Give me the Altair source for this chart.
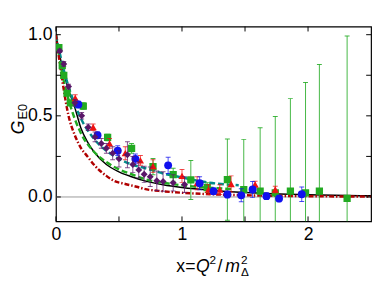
import altair as alt
import pandas as pd

# ---------------- curves ----------------
black_x = [0, 0.05, 0.1, 0.15, 0.2, 0.25, 0.3, 0.4, 0.5, 0.6, 0.72, 0.85, 1.0, 1.25, 1.5, 2.0, 2.5]
black_y = [1.0, 0.80, 0.66, 0.55, 0.42, 0.34, 0.28, 0.20, 0.155, 0.125, 0.096, 0.075, 0.058, 0.04, 0.028, 0.014, 0.007]

teal_x = [0, 0.05, 0.1, 0.15, 0.2, 0.3, 0.4, 0.5, 0.6, 0.72, 0.85, 1.0, 1.2, 1.45]
teal_y = [1.0, 0.82, 0.68, 0.57, 0.48, 0.36, 0.285, 0.235, 0.2, 0.175, 0.145, 0.12, 0.09, 0.072]

green_x = [0, 0.05, 0.1, 0.15, 0.2, 0.3, 0.4, 0.5, 0.6, 0.72, 0.85, 1.0, 1.2, 1.4]
green_y = [1.0, 0.76, 0.60, 0.48, 0.39, 0.28, 0.215, 0.17, 0.14, 0.107, 0.088, 0.072, 0.058, 0.048]

red_x = [0, 0.05, 0.1, 0.15, 0.2, 0.25, 0.3, 0.4, 0.46, 0.55, 0.64, 0.7, 0.85, 1.0, 1.3, 1.6, 2.0, 2.5]
red_y = [1.0, 0.72, 0.50, 0.38, 0.30, 0.25, 0.20, 0.13, 0.10, 0.08, 0.063, 0.05, 0.035, 0.026, 0.015, 0.009, 0.005, 0.002]

# ---------------- data points ----------------
purple_x = [0.03, 0.062, 0.1, 0.15, 0.204, 0.256, 0.31, 0.36, 0.4, 0.45, 0.5, 0.567, 0.61, 0.657, 0.7, 0.748, 0.8, 0.85, 0.93, 1.02]
purple_y = [0.9, 0.82, 0.68, 0.58, 0.5, 0.43, 0.37, 0.33, 0.3, 0.27, 0.235, 0.26, 0.2, 0.167, 0.14, 0.125, 0.1, 0.095, 0.087, 0.077]
purple_e = [0.01, 0.015, 0.015, 0.02, 0.02, 0.02, 0.03, 0.03, 0.03, 0.04, 0.05, 0.08, 0.05, 0.05, 0.05, 0.06, 0.06, 0.06, 0.05, 0.05]

blue_x = [0.178, 0.33, 0.49, 0.63, 0.89, 1.14, 1.25, 1.36, 1.47, 1.56, 1.67, 1.77, 1.95]
blue_y = [0.57, 0.38, 0.285, 0.235, 0.195, 0.085, 0.035, 0.015, 0.01, 0.046, 0.005, -0.01, 0.017]
blue_e = [0.02, 0.02, 0.03, 0.03, 0.05, 0.04, 0.02, 0.02, 0.04, 0.05, 0.02, 0.02, 0.045]

red_px = [0.153, 0.295, 0.425, 0.55, 0.67, 0.77, 1.0, 1.12, 1.21, 1.3, 1.39, 1.58, 1.74]
red_py = [0.61, 0.43, 0.33, 0.27, 0.225, 0.19, 0.13, 0.085, 0.046, 0.045, 0.08, 0.077, 0.046]
red_pe = [0.02, 0.02, 0.03, 0.04, 0.03, 0.04, 0.04, 0.04, 0.03, 0.03, 0.05, 0.02, 0.02]

green_px = [0.023, 0.05, 0.062, 0.088, 0.114, 0.217, 0.41, 0.6, 0.77, 0.93, 1.07, 1.2, 1.36, 1.49, 1.62, 1.74, 1.86, 1.98, 2.09, 2.31]
green_py = [0.92, 0.81, 0.75, 0.64, 0.58, 0.56, 0.367, 0.3, 0.187, 0.137, 0.105, 0.058, 0.107, 0.045, 0.036, 0.026, 0.036, 0.026, 0.036, -0.008]
green_pe = [0.01, 0.01, 0.01, 0.01, 0.01, 0.02, 0.02, 0.03, 0.05, 0.04, 0.12, 0.03, 0.25, 0.31, 0.39, 0.47, 0.57, 0.68, 0.78, 1.0]

x_major = [0, 1, 2]
x_minor = [0.5, 1.5]
y_major = [0.0, 0.5, 1.0]
y_minor = [0.25, 0.75]

W, H = 322, 199
FONT = "Liberation Sans"

xs = alt.Scale(domain=[0, 2.5], nice=False, zero=False)
ys = alt.Scale(domain=[-0.15, 1.05], nice=False, zero=False)
xaxis = alt.Axis(values=x_major, ticks=False, domain=False, grid=False, labelFontSize=18,
                 labelPadding=5, title=None, labelFont=FONT, labelColor="black", format="d",
                 labelFlush=False)
yaxis = alt.Axis(values=y_major, ticks=False, domain=False, grid=False, labelFontSize=18,
                 labelPadding=4, title=None, labelFont=FONT, labelColor="black", format=".1f",
                 labelFlush=False)


def X(f="x"):
    return alt.X(f + ":Q", scale=xs, axis=xaxis)


def Y(f="y"):
    return alt.Y(f + ":Q", scale=ys, axis=yaxis)


def curve(xv, yv, color, dash, width):
    df = pd.DataFrame({"x": xv, "y": yv})
    kw = dict(color=color, strokeWidth=width, clip=True, interpolate="monotone")
    if dash:
        kw["strokeDash"] = dash
    return alt.Chart(df).mark_line(**kw).encode(x=X(), y=Y(), order="x:Q")


def series(xv, yv, ev, color, shape, size, eopacity=0.75):
    df = pd.DataFrame({"x": xv, "y": yv, "e": ev})
    df["lo"] = df["y"] - df["e"]
    df["hi"] = df["y"] + df["e"]
    bars = alt.Chart(df).mark_rule(color=color, strokeWidth=1, opacity=eopacity, clip=True).encode(
        x=X(), y=Y("lo"), y2="hi:Q")
    cap_hi = alt.Chart(df).mark_tick(color=color, orient="horizontal", size=5, thickness=1,
                                     opacity=eopacity, clip=True).encode(x=X(), y=Y("hi"))
    cap_lo = alt.Chart(df).mark_tick(color=color, orient="horizontal", size=5, thickness=1,
                                     opacity=eopacity, clip=True).encode(x=X(), y=Y("lo"))
    pts = alt.Chart(df).mark_point(shape=shape, filled=True, size=size, color=color, opacity=1,
                                   clip=True).encode(x=X(), y=Y())
    return [bars, cap_hi, cap_lo, pts]


zero = alt.Chart(pd.DataFrame({"y": [0.0]})).mark_rule(color="#999999", strokeWidth=1).encode(
    y=Y(), x=alt.value(0), x2=alt.value(W))

# inward ticks on all four sides
xt = pd.DataFrame({"x": x_major + x_minor})
yt = pd.DataFrame({"y": y_major + y_minor})
tick_b = alt.Chart(xt).mark_rule(color="black", strokeWidth=1).encode(x=X(), y=alt.value(H), y2=alt.value(H - 5))
tick_t = alt.Chart(xt).mark_rule(color="black", strokeWidth=1).encode(x=X(), y=alt.value(0), y2=alt.value(5))
tick_l = alt.Chart(yt).mark_rule(color="black", strokeWidth=1).encode(y=Y(), x=alt.value(0), x2=alt.value(5))
tick_r = alt.Chart(yt).mark_rule(color="black", strokeWidth=1).encode(y=Y(), x=alt.value(W), x2=alt.value(W - 5))

one = pd.DataFrame({"a": [0]})


def txt(s, x, y, size=18, style="normal", angle=0):
    return alt.Chart(one).mark_text(text=s, font=FONT, fontSize=size, fontStyle=style, align="left",
                                    baseline="alphabetic", color="black", angle=angle).encode(
        x=alt.value(x), y=alt.value(y))


# x title: x=Q^2/m^2_Delta
xtitle = [
    txt("x=", 123, 251),
    txt("Q", 143, 251, style="italic"),
    txt("2", 157, 243, size=12),
    txt("/", 165, 251),
    txt("m", 173, 251, style="italic"),
    txt("2", 189, 243, size=12),
    txt("Δ", 189, 255, size=12),
]
# y title: G_E0 rotated
ytitle = [
    txt("G", -33, 110, style="italic", angle=270),
    txt("E0", -30, 95, size=13, angle=270),
]

layers = [zero]
layers += [curve(black_x, black_y, "black", None, 1.5)]
layers += [curve(green_x, green_y, "#22aa22", [6, 3], 2.5)]
layers += [curve(teal_x, teal_y, "#008b8b", [6, 3], 2.5)]
layers += [curve(red_x, red_y, "#b00000", [5, 2, 1.5, 2], 2.5)]
layers += series(green_px, green_py, green_pe, "#22aa22", "square", 55, 0.85)
layers += series(red_px, red_py, red_pe, "#ee1111", "triangle-up", 55)
layers += series(blue_x, blue_y, blue_e, "#1010ee", "circle", 65)
layers += series(purple_x, purple_y, purple_e, "#5a1668", "diamond", 50)
layers += [tick_b, tick_t, tick_l, tick_r]
layers += xtitle + ytitle

chart = alt.layer(*layers).properties(
    width=W, height=H,
    autosize="none",
    padding={"left": 49, "top": 16, "right": 3, "bottom": 58},
    background="white",
).configure_view(stroke="black", strokeWidth=1.2)

chart.save("out.html", embed_options={"renderer": "svg", "actions": False})
